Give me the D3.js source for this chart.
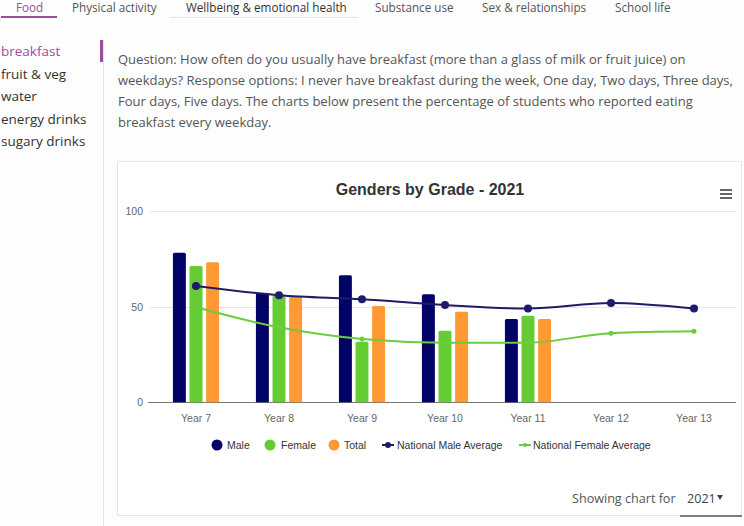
<!DOCTYPE html>
<html lang="en">
<head>
  <meta charset="UTF-8">
  <title>Genders by Grade - 2021</title>
  <script src="https://d3js.org/d3.v7.min.js"></script>
  <style>
    body {
      margin: 0;
      background: #fdfdfd;
      font-family: "Open Sans", sans-serif;
    }
    svg text { font-family: "Open Sans", sans-serif; }
    .hc text { font-family: "Liberation Sans", Arial, sans-serif; }
  </style>
</head>
<body>
  <svg id="page" width="744" height="526"></svg>

  <script>
    // data
    const years = ["Year 7", "Year 8", "Year 9", "Year 10", "Year 11", "Year 12", "Year 13"];
    const series = ["Male", "Female", "Total"];
    const male = [78.2, 57, 66.4, 56.5, 43.6, null, null];
    const female = [71.3, 55.8, 31.7, 37.4, 45.3, null, null];
    const total = [73.2, 55.2, 50.4, 47.4, 43.6, null, null];
    const natMale = [60.8, 56, 53.9, 50.9, 49, 51.9, 49];
    const natFemale = [49.7, 39.2, 33.1, 31.2, 31.2, 36.1, 37.1];
    const yTicks = [0, 50, 100];

    const tabs = ["Food", "Physical activity", "Wellbeing & emotional health", "Substance use", "Sex & relationships", "School life"];
    const topics = ["breakfast", "fruit & veg", "water", "energy drinks", "sugary drinks"];
    const question = [
      "Question: How often do you usually have breakfast (more than a glass of milk or fruit juice) on",
      "weekdays? Response options: I never have breakfast during the week, One day, Two days, Three days,",
      "Four days, Five days. The charts below present the percentage of students who reported eating",
      "breakfast every weekday."
    ];

    const colors = {Male: "#020367", Female: "#66cc33", Total: "#ff9933"};
    const purple = "#9b4f9b";

    const svg = d3.select("#page");

    // top tabs
    const tabX = [16, 72, 186, 375, 482, 615];
    svg.selectAll(".tab").data(tabs).join("text")
      .attr("class", "tab")
      .attr("x", (d, i) => tabX[i]).attr("y", 12)
      .attr("font-size", 11.7)
      .attr("fill", (d, i) => i === 0 ? purple : (i === 2 ? "#333" : "#555"))
      .text(d => d);
    svg.append("rect").attr("x", 1).attr("y", 16).attr("width", 56).attr("height", 2).attr("fill", purple);
    svg.append("rect").attr("x", 170).attr("y", 17).attr("width", 188).attr("height", 1).attr("fill", "#e4e4e4");

    // sidebar
    svg.selectAll(".topic").data(topics).join("text")
      .attr("class", "topic")
      .attr("x", 1).attr("y", (d, i) => 56 + i * 22.5)
      .attr("font-size", 13.5)
      .attr("fill", (d, i) => i === 0 ? purple : "#333")
      .text(d => d);
    svg.append("line").attr("x1", 103.5).attr("x2", 103.5).attr("y1", 40).attr("y2", 526)
      .attr("stroke", "#e4e4e4");
    svg.append("rect").attr("x", 100).attr("y", 40).attr("width", 3).attr("height", 22).attr("fill", purple);

    // question text
    svg.selectAll(".q").data(question).join("text")
      .attr("class", "q")
      .attr("x", 118).attr("y", (d, i) => 64 + i * 21)
      .attr("font-size", 13)
      .attr("fill", "#555")
      .text(d => d);

    // chart box
    svg.append("rect").attr("x", 117.5).attr("y", 161.5).attr("width", 624).attr("height", 354)
      .attr("fill", "#fff").attr("stroke", "#e6e6e6");

    const hc = svg.append("g").attr("class", "hc");

    hc.append("text").attr("x", 430).attr("y", 195).attr("text-anchor", "middle")
      .attr("font-size", 16).attr("font-weight", "bold").attr("fill", "#333")
      .text("Genders by Grade - 2021");

    // hamburger
    [0, 4, 8].forEach(o => hc.append("rect").attr("x", 720).attr("y", 189 + o).attr("width", 12)
      .attr("height", 2).attr("fill", "#666"));

    const x = d3.scaleBand().domain(years).range([154.5, 735.5]);
    const y = d3.scaleLinear().domain([0, 100]).range([402.3, 211.1]);
    const x1 = d3.scaleBand().domain(series).range([-24.75, 24.75]).paddingInner(0.22).paddingOuter(0.1);

    // grid
    hc.selectAll(".grid").data(yTicks.filter(t => t > 0)).join("line")
      .attr("x1", 150).attr("x2", 736)
      .attr("y1", d => Math.round(y(d)) + 0.5).attr("y2", d => Math.round(y(d)) + 0.5)
      .attr("stroke", "#e6e6e6");

    // y axis labels
    hc.append("g").attr("transform", "translate(148,0)")
      .call(d3.axisLeft(y).tickValues(yTicks).tickSize(0).tickPadding(5))
      .call(g => g.select(".domain").remove())
      .selectAll("text").attr("font-size", 10.5).attr("fill", "#666")
      .attr("font-family", "Liberation Sans, Arial, sans-serif");

    // x axis
    hc.append("g").attr("transform", `translate(0,${Math.round(y(0)) + 0.5})`)
      .call(d3.axisBottom(x).tickSize(0).tickPadding(12))
      .call(g => g.select(".domain").attr("stroke", "#777").attr("d", "M148,0H736"))
      .selectAll("text").attr("font-size", 10.5).attr("fill", "#666")
      .attr("font-family", "Liberation Sans, Arial, sans-serif");

    // bars
    const barData = {Male: male, Female: female, Total: total};
    series.forEach(s => {
      hc.append("g").selectAll("path")
        .data(years.map((yr, i) => ({yr, v: barData[s][i]})).filter(d => d.v != null))
        .join("path")
        .attr("fill", colors[s])
        .attr("d", d => {
          const bx = x(d.yr) + x.bandwidth() / 2 + x1(s), bw = x1.bandwidth();
          const top = y(d.v), bot = y(0), r = 1.5;
          return `M${bx},${bot}V${top + r}Q${bx},${top} ${bx + r},${top}H${bx + bw - r}Q${bx + bw},${top} ${bx + bw},${top + r}V${bot}Z`;
        });
    });

    // spline lines
    const cx = d => x(d.yr) + x.bandwidth() / 2;
    const line = d3.line().x(cx).y(d => y(d.v)).curve(d3.curveMonotoneX);
    const lineSeries = [
      {vals: natMale, color: "#1c1c6b", r: 4, w: 2},
      {vals: natFemale, color: "#6ccc3a", r: 2.5, w: 2}
    ];
    lineSeries.forEach(ls => {
      const pts = years.map((yr, i) => ({yr, v: ls.vals[i]}));
      hc.append("path").datum(pts).attr("d", line)
        .attr("fill", "none").attr("stroke", ls.color).attr("stroke-width", ls.w);
      hc.append("g").selectAll("circle").data(pts).join("circle")
        .attr("cx", cx).attr("cy", d => y(d.v)).attr("r", ls.r).attr("fill", ls.color);
    });

    // legend
    const legend = [
      {name: "Male", type: "dot", color: colors.Male, x: 217, tx: 227},
      {name: "Female", type: "dot", color: colors.Female, x: 270, tx: 281},
      {name: "Total", type: "dot", color: colors.Total, x: 334, tx: 344},
      {name: "National Male Average", type: "line", color: "#1c1c6b", r: 3, x: 388, tx: 397},
      {name: "National Female Average", type: "line", color: "#6ccc3a", r: 2, x: 525, tx: 533}
    ];
    const lg = hc.append("g");
    legend.forEach(l => {
      if (l.type === "dot") {
        lg.append("circle").attr("cx", l.x).attr("cy", 445).attr("r", 5.5).attr("fill", l.color);
      } else {
        lg.append("line").attr("x1", l.x - 6).attr("x2", l.x + 6).attr("y1", 445).attr("y2", 445)
          .attr("stroke", l.color).attr("stroke-width", 2);
        lg.append("circle").attr("cx", l.x).attr("cy", 445).attr("r", l.r).attr("fill", l.color);
      }
      lg.append("text").attr("x", l.tx).attr("y", 449).attr("font-size", 10.5).attr("fill", "#333")
        .text(l.name);
    });

    // year selector
    svg.append("text").attr("x", 572).attr("y", 503).attr("font-size", 12.6).attr("fill", "#555")
      .text("Showing chart for");
    svg.append("text").attr("x", 687).attr("y", 503).attr("font-size", 12.6).attr("fill", "#444")
      .text("2021");
    svg.append("path").attr("d", "M717,495h6l-3,5z").attr("fill", "#444");
    svg.append("line").attr("x1", 680).attr("x2", 742).attr("y1", 516).attr("y2", 516)
      .attr("stroke", "#555").attr("stroke-width", 1.5);
  </script>
</body>
</html>
